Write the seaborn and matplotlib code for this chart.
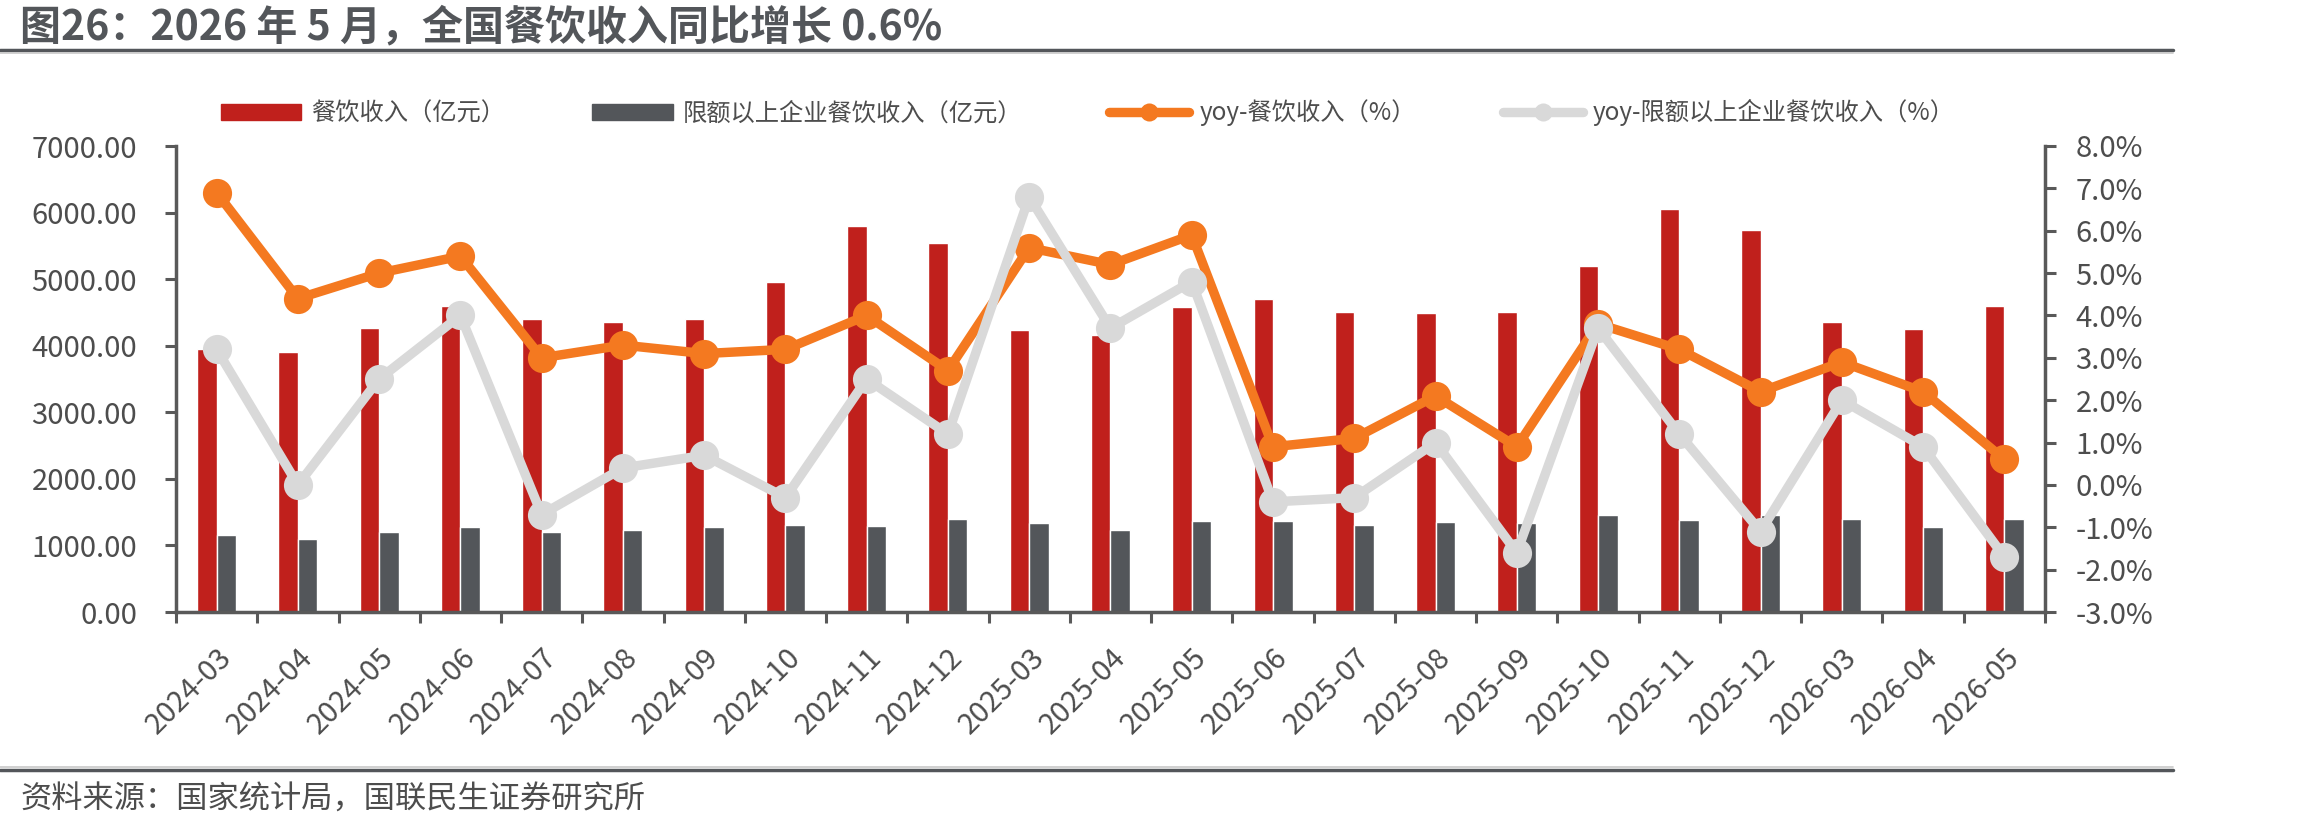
import numpy as np
import pandas as pd
import seaborn as sns
import matplotlib.pyplot as plt
from matplotlib.lines import Line2D
from matplotlib.patches import Patch
from matplotlib.ticker import FuncFormatter, MultipleLocator

# data
months = ['2024-03', '2024-04', '2024-05', '2024-06', '2024-07', '2024-08', '2024-09',
          '2024-10', '2024-11', '2024-12', '2025-03', '2025-04', '2025-05', '2025-06',
          '2025-07', '2025-08', '2025-09', '2025-10', '2025-11', '2025-12', '2026-03',
          '2026-04', '2026-05']
revenue = [3950, 3900, 4260, 4600, 4395, 4350, 4405, 4950, 5795, 5540, 4230, 4160,
           4575, 4700, 4500, 4490, 4500, 5190, 6050, 5735, 4355, 4250, 4595]
revenue_above = [1160, 1090, 1205, 1270, 1205, 1230, 1270, 1310, 1290, 1395, 1330, 1225,
                 1365, 1365, 1300, 1345, 1335, 1450, 1375, 1450, 1395, 1275, 1390]
yoy_revenue = [6.9, 4.4, 5.0, 5.4, 3.0, 3.3, 3.1, 3.2, 4.0, 2.7, 5.6, 5.2,
               5.9, 0.9, 1.1, 2.1, 0.9, 3.8, 3.2, 2.2, 2.9, 2.2, 0.6]
yoy_above = [3.2, 0.0, 2.5, 4.0, -0.7, 0.4, 0.7, -0.3, 2.5, 1.2, 6.8, 3.7,
             4.8, -0.4, -0.3, 1.0, -1.6, 3.7, 1.2, -1.1, 2.0, 0.9, -1.7]

bar_names = ['餐饮收入（亿元）', '限额以上企业餐饮收入（亿元）']
line_names = ['yoy-餐饮收入（%）', 'yoy-限额以上企业餐饮收入（%）']

RED = '#C0201C'
DARK = '#53565A'
ORANGE = '#F47920'
LIGHT = '#D9D9D9'
TEXT = '#4D4D4D'
AXIS = '#595959'

sns.set_style('white')
plt.rcParams['font.family'] = ['Noto Sans CJK SC', 'DejaVu Sans']
plt.rcParams['axes.unicode_minus'] = False

df = pd.DataFrame({'month': months, bar_names[0]: revenue, bar_names[1]: revenue_above})
df_long = df.melt(id_vars='month', var_name='series', value_name='value')

fig = plt.figure(figsize=(23.1, 8.3), dpi=100)
ax = fig.add_axes([176 / 2310, 1 - 612 / 830, (2045 - 176) / 2310, (612 - 146) / 830])

sns.barplot(data=df_long, x='month', y='value', hue='series', palette=[RED, DARK],
            width=0.48, gap=0, errorbar=None, legend=False, ax=ax, saturation=1)

ax2 = ax.twinx()
x = np.arange(len(months))
sns.lineplot(x=x, y=yoy_revenue, ax=ax2, color=ORANGE, linewidth=6.8, marker='o',
             markersize=21, markeredgewidth=0, markeredgecolor=ORANGE)
sns.lineplot(x=x, y=yoy_above, ax=ax2, color=LIGHT, linewidth=6.8, marker='o',
             markersize=21, markeredgewidth=0, markeredgecolor=LIGHT)

ax.set_xlim(-0.5, len(months) - 0.5)
ax.set_ylim(0, 7000)
ax2.set_ylim(-3, 8)
ax.set_xlabel('')
ax.set_ylabel('')
ax2.set_ylabel('')

# left axis
ax.yaxis.set_major_locator(MultipleLocator(1000))
ax.yaxis.set_major_formatter(FuncFormatter(lambda v, p: f'{v:.2f}'))
ax.tick_params(axis='y', which='major', length=8, width=2.2, color=AXIS, pad=20,
               labelsize=21, labelcolor=TEXT, left=True)

# right axis
ax2.yaxis.set_major_locator(MultipleLocator(1))
ax2.yaxis.set_major_formatter(FuncFormatter(lambda v, p: f'{v:.1f}%'))
ax2.tick_params(axis='y', which='major', length=8, width=2.2, color=AXIS, pad=14,
                labelsize=21, labelcolor=TEXT, right=True)

# x axis: ticks at category boundaries, labels at centres
ax.set_xticks(np.arange(len(months) + 1) - 0.5)
ax.set_xticklabels([])
ax.set_xticks(x, minor=True)
ax.set_xticklabels(months, minor=True, rotation=45, ha='right', va='top',
                   rotation_mode='anchor')
ax.tick_params(axis='x', which='major', length=8, width=2.2, color=AXIS, bottom=True)
ax.tick_params(axis='x', which='minor', length=0, pad=22, labelsize=21, labelcolor=TEXT)

for a in (ax, ax2):
    for s in a.spines.values():
        s.set_visible(False)
ax.spines['left'].set_visible(True)
ax.spines['bottom'].set_visible(True)
ax2.spines['right'].set_visible(True)
for s in (ax.spines['left'], ax.spines['bottom'], ax2.spines['right']):
    s.set_color(AXIS)
    s.set_linewidth(2.5)

# legend
handles = [Patch(color=RED), Patch(color=DARK),
           Line2D([], [], color=ORANGE, lw=6.8, marker='o', markersize=13, mew=0),
           Line2D([], [], color=LIGHT, lw=6.8, marker='o', markersize=13, mew=0)]
fig.legend(handles, bar_names + line_names, loc='center', bbox_to_anchor=(0.471, 0.864),
           ncol=4, frameon=False, fontsize=17.5, labelcolor=TEXT, handlelength=3.3,
           handleheight=0.62, handletextpad=0.4, columnspacing=3.6)

# title, rules and source
fig.text(20 / 2310, 0.967, '图26：2026 年 5 月，全国餐饮收入同比增长 0.6%', fontsize=29.5,
         fontweight='bold', color=DARK, ha='left', va='center')
fig.add_artist(Line2D([0, 0.9407], [1 - 50 / 830] * 2, color=DARK, lw=2.5,
                      transform=fig.transFigure))
fig.add_artist(Line2D([0, 0.9407], [1 - 53 / 830] * 2, color='#C8C8C8', lw=1.2,
                      transform=fig.transFigure))
fig.add_artist(Line2D([0, 0.9407], [1 - 767 / 830] * 2, color='#C8C8C8', lw=1.2,
                      transform=fig.transFigure))
fig.add_artist(Line2D([0, 0.9407], [1 - 770 / 830] * 2, color=DARK, lw=2.5,
                      transform=fig.transFigure))
fig.text(20 / 2310, 1 - 800 / 830, '资料来源：国家统计局，国联民生证券研究所', fontsize=22.5,
         color=TEXT, ha='left', va='center')

fig.savefig('out.png', dpi=100)
